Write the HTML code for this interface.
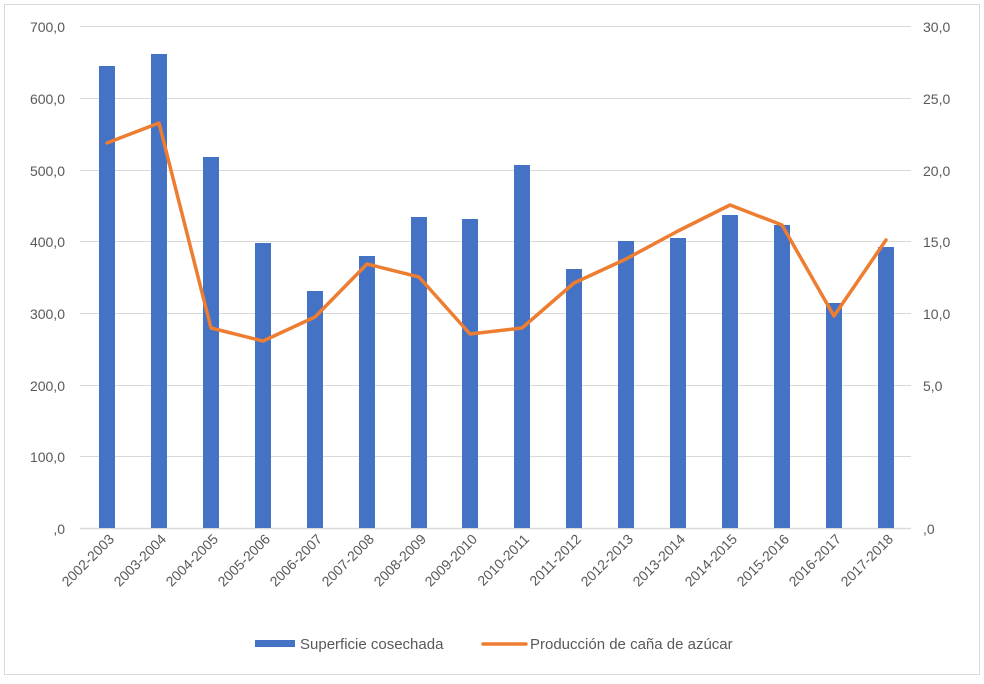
<!DOCTYPE html>
<html><head><meta charset="utf-8"><style>
body{margin:0;background:#fff}
svg text{font-family:"Liberation Sans",sans-serif;fill:#595959;font-size:14px}
svg text.lg{font-size:15px}
</style></head><body>
<svg width="984" height="679" xmlns="http://www.w3.org/2000/svg">
<rect x="4.5" y="4.5" width="975" height="670" fill="#fff" stroke="#d9d9d9"/>
<g stroke="#d9d9d9" stroke-width="1">
<line x1="80" x2="911" y1="26.5" y2="26.5"/>
<line x1="80" x2="911" y1="98.5" y2="98.5"/>
<line x1="80" x2="911" y1="170.5" y2="170.5"/>
<line x1="80" x2="911" y1="241.5" y2="241.5"/>
<line x1="80" x2="911" y1="313.5" y2="313.5"/>
<line x1="80" x2="911" y1="385.5" y2="385.5"/>
<line x1="80" x2="911" y1="456.5" y2="456.5"/>
<line x1="80" x2="911" y1="528.5" y2="528.5" stroke-width="1.5"/>
</g>
<g text-anchor="end">
<text x="65" y="32">700,0</text><text x="65" y="104">600,0</text><text x="65" y="176">500,0</text>
<text x="65" y="247">400,0</text><text x="65" y="319">300,0</text><text x="65" y="391">200,0</text>
<text x="65" y="462">100,0</text><text x="65" y="534">,0</text>
</g>
<g text-anchor="start">
<text x="923" y="32">30,0</text><text x="923" y="104">25,0</text><text x="923" y="176">20,0</text>
<text x="923" y="247">15,0</text><text x="923" y="319">10,0</text><text x="923" y="391">5,0</text>
<text x="923" y="534">,0</text>
</g>
<g fill="#4472c4">
<rect x="99" y="66" width="16" height="462"/>
<rect x="151" y="54" width="16" height="474"/>
<rect x="203" y="157" width="16" height="371"/>
<rect x="255" y="243" width="16" height="285"/>
<rect x="307" y="291" width="16" height="237"/>
<rect x="359" y="256" width="16" height="272"/>
<rect x="411" y="217" width="16" height="311"/>
<rect x="462" y="219" width="16" height="309"/>
<rect x="514" y="165" width="16" height="363"/>
<rect x="566" y="269" width="16" height="259"/>
<rect x="618" y="241" width="16" height="287"/>
<rect x="670" y="238" width="16" height="290"/>
<rect x="722" y="215" width="16" height="313"/>
<rect x="774" y="225" width="16" height="303"/>
<rect x="826" y="303" width="16" height="225"/>
<rect x="878" y="247" width="16" height="281"/>
</g>
<polyline fill="none" stroke="#ed7d31" stroke-width="3.5" stroke-linejoin="round" stroke-linecap="round"
points="107,143 159,123 211,328 263,341 315,317 367,264 419,277 470,334 522,328 574,283 626,259 678,231 730,205 782,225 834,316 886,240"/>
<g text-anchor="end">
<text transform="translate(115,540) rotate(-45)">2002-2003</text>
<text transform="translate(167,540) rotate(-45)">2003-2004</text>
<text transform="translate(219,540) rotate(-45)">2004-2005</text>
<text transform="translate(271,540) rotate(-45)">2005-2006</text>
<text transform="translate(323,540) rotate(-45)">2006-2007</text>
<text transform="translate(375,540) rotate(-45)">2007-2008</text>
<text transform="translate(427,540) rotate(-45)">2008-2009</text>
<text transform="translate(478,540) rotate(-45)">2009-2010</text>
<text transform="translate(530,540) rotate(-45)">2010-2011</text>
<text transform="translate(582,540) rotate(-45)">2011-2012</text>
<text transform="translate(634,540) rotate(-45)">2012-2013</text>
<text transform="translate(686,540) rotate(-45)">2013-2014</text>
<text transform="translate(738,540) rotate(-45)">2014-2015</text>
<text transform="translate(790,540) rotate(-45)">2015-2016</text>
<text transform="translate(842,540) rotate(-45)">2016-2017</text>
<text transform="translate(894,540) rotate(-45)">2017-2018</text>
</g>
<rect x="255" y="640" width="40" height="7" fill="#4472c4"/>
<text class="lg" x="300" y="649">Superficie cosechada</text>
<line x1="483" x2="526" y1="644" y2="644" stroke="#ed7d31" stroke-width="3.5" stroke-linecap="round"/>
<text class="lg" x="530" y="649">Producción de caña de azúcar</text>
</svg>
</body></html>
